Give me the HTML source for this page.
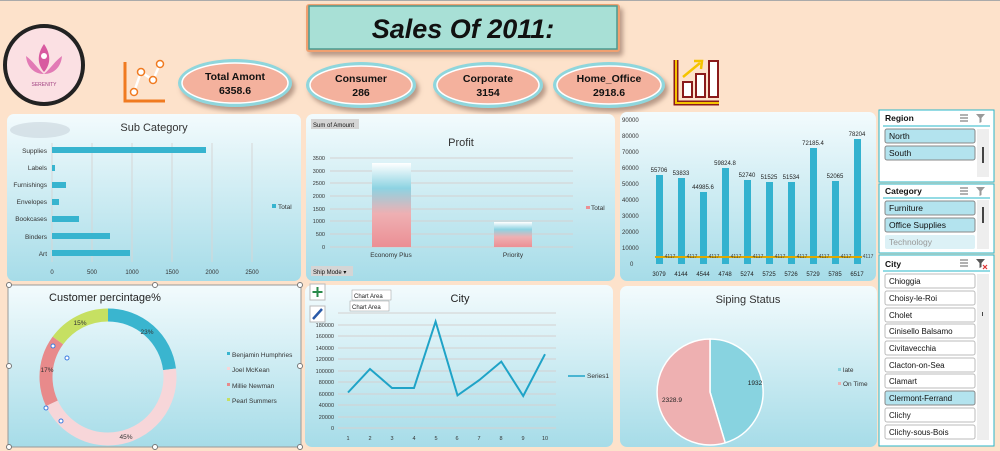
<!DOCTYPE html>
<html><head><meta charset="utf-8"><style>
html,body{margin:0;padding:0;background:#fde2cb;}
svg{display:block;font-family:"Liberation Sans",sans-serif;}
</style></head><body>
<svg width="1000" height="451" viewBox="0 0 1000 451" xmlns="http://www.w3.org/2000/svg">
<defs>
<linearGradient id="pg" x1="0" y1="0" x2="0" y2="1"><stop offset="0" stop-color="#f3fbfd"/><stop offset="1" stop-color="#a6dce8"/></linearGradient>
<linearGradient id="eb" x1="0" y1="0" x2="0" y2="1"><stop offset="0" stop-color="#ffffff"/><stop offset="0.3" stop-color="#8dd3e2"/><stop offset="0.6" stop-color="#eeb0b3"/><stop offset="1" stop-color="#ec8f94"/></linearGradient>
<filter id="sh" x="-20%" y="-20%" width="150%" height="160%"><feDropShadow dx="3" dy="4" stdDeviation="2.5" flood-color="#8a6a5a" flood-opacity="0.6"/></filter>
</defs>
<rect x="0" y="0" width="1000" height="451" fill="#fde2cb"/>
<line x1="0" y1="0.5" x2="1000" y2="0.5" stroke="#aaa"/>

<!-- title -->
<rect x="306" y="4" width="314" height="48" rx="3" fill="#f0a070" filter="url(#sh)"/>
<rect x="309" y="6" width="308" height="43" fill="#a8e0d6" stroke="#4a9a92" stroke-width="1.5"/>
<text x="463" y="38" font-size="27" font-weight="bold" font-style="italic" text-anchor="middle" fill="#111">Sales Of 2011:</text>

<!-- logo -->
<circle cx="44" cy="65" r="39" fill="#fbe0e3" stroke="#222" stroke-width="4"/>
<path d="M44 44 C37 54 37 64 44 72 C51 64 51 54 44 44Z" fill="#d85aa0"/>
<path d="M26 56 C27 68 35 74 44 74 C37 68 33 61 26 56Z M62 56 C61 68 53 74 44 74 C51 68 55 61 62 56Z" fill="#e27ab5"/>
<circle cx="44" cy="56" r="3" fill="#fff"/>
<text x="44" y="86" font-size="5" text-anchor="middle" fill="#a04080">SERENITY</text>

<!-- left icon -->
<g stroke="#f07a20" stroke-width="3" fill="none">
<path d="M125 62 V101 H165"/>
<path d="M134 92 L141 72 L153 80 L160 64" stroke="#fff" stroke-width="2.5"/>
</g>
<g fill="#fff" stroke="#f07a20" stroke-width="1.5"><circle cx="134" cy="92" r="3.5"/><circle cx="141" cy="72" r="3.5"/><circle cx="153" cy="80" r="3.5"/><circle cx="160" cy="64" r="3.5"/></g>

<!-- ellipses -->
<g font-size="10.5" font-weight="bold" text-anchor="middle" fill="#111">
<g filter="url(#sh)">
<ellipse cx="235" cy="83" rx="57" ry="24" fill="#8fd6dc"/>
<ellipse cx="361" cy="85" rx="55" ry="23" fill="#8fd6dc"/>
<ellipse cx="488" cy="85" rx="55" ry="23" fill="#8fd6dc"/>
<ellipse cx="609" cy="85" rx="56" ry="23" fill="#8fd6dc"/>
</g>
<ellipse cx="235" cy="83" rx="53" ry="20" fill="#f4b19d" stroke="#fff" stroke-width="1.5"/>
<ellipse cx="361" cy="85" rx="51" ry="19" fill="#f4b19d" stroke="#fff" stroke-width="1.5"/>
<ellipse cx="488" cy="85" rx="51" ry="19" fill="#f4b19d" stroke="#fff" stroke-width="1.5"/>
<ellipse cx="609" cy="85" rx="52" ry="19" fill="#f4b19d" stroke="#fff" stroke-width="1.5"/>
<text x="235" y="80">Total Amont</text><text x="235" y="94">6358.6</text>
<text x="361" y="82">Consumer</text><text x="361" y="96">286</text>
<text x="488" y="82">Corporate</text><text x="488" y="96">3154</text>
<text x="609" y="82">Home_Office</text><text x="609" y="96">2918.6</text>
</g>

<!-- right icon -->
<g>
<path d="M676 60 V103 H719" stroke="#8b1a1a" stroke-width="5" fill="none"/>
<path d="M676 60 V103 H719" stroke="#f5c400" stroke-width="2" fill="none"/>
<rect x="683" y="82" width="9" height="15" fill="#fff" stroke="#8b1a1a" stroke-width="2"/>
<rect x="696" y="74" width="9" height="23" fill="#fff" stroke="#8b1a1a" stroke-width="2"/>
<rect x="709" y="61" width="9" height="36" fill="#fff" stroke="#8b1a1a" stroke-width="2"/>
<path d="M683 77 L700 63" stroke="#f5c400" stroke-width="2.5"/>
<path d="M694 61 L702 61 L701 69" stroke="#f5c400" stroke-width="2.5" fill="none"/>
</g>

<!-- panels -->
<rect x="7" y="114" width="294" height="167" rx="7" fill="url(#pg)"/>
<rect x="306" y="114" width="309" height="167" rx="7" fill="url(#pg)"/>
<rect x="620" y="112" width="256" height="169" rx="7" fill="url(#pg)"/>
<rect x="8" y="285" width="293" height="162" fill="url(#pg)" stroke="#999" stroke-width="1"/>
<rect x="305" y="285" width="308" height="162" rx="7" fill="url(#pg)"/>
<rect x="620" y="286" width="257" height="161" rx="7" fill="url(#pg)"/>

<!-- Sub Category -->
<ellipse cx="40" cy="130" rx="30" ry="8" fill="#c8d4dc" opacity="0.6"/>
<text x="154" y="131" font-size="11" text-anchor="middle" fill="#333">Sub Category</text>
<g stroke="#d6d6d6" stroke-width="1">
<line x1="52" y1="143" x2="52" y2="262"/><line x1="92" y1="143" x2="92" y2="262"/><line x1="132" y1="143" x2="132" y2="262"/><line x1="172" y1="143" x2="172" y2="262"/><line x1="212" y1="143" x2="212" y2="262"/><line x1="252" y1="143" x2="252" y2="262"/>
</g>
<g fill="#37b4cf">
<rect x="52" y="147" width="154" height="6"/><rect x="52" y="165" width="3" height="6"/><rect x="52" y="182" width="14" height="6"/><rect x="52" y="199" width="7" height="6"/><rect x="52" y="216" width="27" height="6"/><rect x="52" y="233" width="58" height="6"/><rect x="52" y="250" width="78" height="6"/>
</g>
<g font-size="6.5" fill="#333" text-anchor="end">
<text x="47" y="153">Supplies</text><text x="47" y="170">Labels</text><text x="47" y="187">Furnishings</text><text x="47" y="204">Envelopes</text><text x="47" y="221">Bookcases</text><text x="47" y="239">Binders</text><text x="47" y="256">Art</text>
</g>
<g font-size="6" fill="#333" text-anchor="middle">
<text x="52" y="274">0</text><text x="92" y="274">500</text><text x="132" y="274">1000</text><text x="172" y="274">1500</text><text x="212" y="274">2000</text><text x="252" y="274">2500</text>
</g>
<rect x="272" y="204" width="4" height="4" fill="#37b4cf"/><text x="278" y="209" font-size="6.5" fill="#333">Total</text>

<!-- Profit -->
<rect x="311" y="119" width="48" height="10" fill="#d5d5d5"/><text x="313" y="127" font-size="6" fill="#111">Sum of Amount</text>
<text x="461" y="146" font-size="11" text-anchor="middle" fill="#333">Profit</text>
<g stroke="#d4d0d0"><line x1="330" y1="158" x2="573" y2="158"/><line x1="330" y1="171" x2="573" y2="171"/><line x1="330" y1="183" x2="573" y2="183"/><line x1="330" y1="196" x2="573" y2="196"/><line x1="330" y1="209" x2="573" y2="209"/><line x1="330" y1="221" x2="573" y2="221"/><line x1="330" y1="234" x2="573" y2="234"/><line x1="330" y1="247" x2="573" y2="247"/></g>
<g font-size="5.5" fill="#333" text-anchor="end">
<text x="325" y="160">3500</text><text x="325" y="173">3000</text><text x="325" y="185">2500</text><text x="325" y="198">2000</text><text x="325" y="211">1500</text><text x="325" y="223">1000</text><text x="325" y="236">500</text><text x="325" y="249">0</text>
</g>
<rect x="372" y="163" width="39" height="84" fill="url(#eb)"/>
<rect x="494" y="222" width="38" height="25" fill="url(#eb)"/>
<text x="391" y="257" font-size="6.5" fill="#333" text-anchor="middle">Economy Plus</text>
<text x="513" y="257" font-size="6.5" fill="#333" text-anchor="middle">Priority</text>
<rect x="586" y="206" width="4" height="3" fill="#ec8f94"/><text x="591" y="210" font-size="6.5" fill="#333">Total</text>
<rect x="311" y="266" width="42" height="10" fill="#d5d5d5"/><text x="313" y="274" font-size="6" fill="#111">Ship Mode ▾</text>

<!-- right bar chart -->
<g font-size="6" fill="#333">
<text x="622" y="122">90000</text><text x="622" y="138">80000</text><text x="622" y="154">70000</text><text x="622" y="170">60000</text><text x="622" y="186">50000</text><text x="622" y="202">40000</text><text x="622" y="218">30000</text><text x="622" y="234">20000</text><text x="622" y="250">10000</text><text x="630" y="266">0</text>
</g>
<g fill="#33b2cf">
<rect x="656" y="175" width="7" height="89"/><rect x="678" y="178" width="7" height="86"/><rect x="700" y="192" width="7" height="72"/><rect x="722" y="168" width="7" height="96"/><rect x="744" y="180" width="7" height="84"/><rect x="766" y="182" width="7" height="82"/><rect x="788" y="182" width="7" height="82"/><rect x="810" y="148" width="7" height="116"/><rect x="832" y="181" width="7" height="83"/><rect x="854" y="139" width="7" height="125"/>
</g>
<line x1="655" y1="257" x2="862" y2="257" stroke="#e0a800" stroke-width="2"/>
<g font-size="6" fill="#222" text-anchor="middle">
<text x="659" y="172">55706</text><text x="681" y="175">53833</text><text x="703" y="189">44985.6</text><text x="725" y="165">59824.8</text><text x="747" y="177">52740</text><text x="769" y="179">51525</text><text x="791" y="179">51534</text><text x="813" y="145">72185.4</text><text x="835" y="178">52065</text><text x="857" y="136">78204</text>
<text x="659" y="276">3079</text><text x="681" y="276">4144</text><text x="703" y="276">4544</text><text x="725" y="276">4748</text><text x="747" y="276">5274</text><text x="769" y="276">5725</text><text x="791" y="276">5726</text><text x="813" y="276">5729</text><text x="835" y="276">5785</text><text x="857" y="276">6517</text>
</g>
<g font-size="5" fill="#444" text-anchor="middle">
<text x="670" y="258">4117</text><text x="692" y="258">4117</text><text x="714" y="258">4117</text><text x="736" y="258">4117</text><text x="758" y="258">4117</text><text x="780" y="258">4117</text><text x="802" y="258">4117</text><text x="824" y="258">4117</text><text x="846" y="258">4117</text><text x="868" y="258">4117</text>
</g>

<!-- slicers -->
<g font-size="8.5" fill="#111">
<rect x="879" y="110" width="115" height="72" fill="#fff" stroke="#2ab7ca"/>
<text x="885" y="121" font-weight="bold">Region</text>
<line x1="883" y1="126" x2="990" y2="126" stroke="#2ab7ca"/>
<rect x="977" y="129" width="12" height="48" fill="#eee"/><rect x="982" y="147" width="2" height="16" fill="#444"/>
<rect x="885" y="129" width="90" height="14" rx="2" fill="#b3e3ee" stroke="#888"/><text x="889" y="139">North</text>
<rect x="885" y="146" width="90" height="14" rx="2" fill="#b3e3ee" stroke="#888"/><text x="889" y="156">South</text>
<rect x="879" y="184" width="115" height="69" fill="#fff" stroke="#2ab7ca"/>
<text x="885" y="194" font-weight="bold">Category</text>
<line x1="883" y1="198" x2="990" y2="198" stroke="#2ab7ca"/>
<rect x="977" y="200" width="12" height="49" fill="#eee"/><rect x="982" y="207" width="2" height="16" fill="#444"/>
<rect x="885" y="201" width="90" height="14" rx="2" fill="#b3e3ee" stroke="#888"/><text x="889" y="211">Furniture</text>
<rect x="885" y="218" width="90" height="14" rx="2" fill="#b3e3ee" stroke="#888"/><text x="889" y="228">Office Supplies</text>
<rect x="885" y="235" width="90" height="14" rx="2" fill="#dcf1f6"/><text x="889" y="245" fill="#999">Technology</text>
<rect x="879" y="255" width="115" height="191" fill="#fff" stroke="#2ab7ca"/>
<text x="885" y="267" font-weight="bold">City</text>
<line x1="883" y1="271" x2="990" y2="271" stroke="#2ab7ca"/>
<rect x="977" y="274" width="12" height="166" fill="#eee"/><rect x="982" y="312" width="1" height="4" fill="#444"/>
<g fill="#fff" stroke="#bbb">
<rect x="885" y="274" width="90" height="14" rx="2"/><rect x="885" y="291" width="90" height="14" rx="2"/><rect x="885" y="308" width="90" height="14" rx="2"/><rect x="885" y="324" width="90" height="14" rx="2"/><rect x="885" y="341" width="90" height="14" rx="2"/><rect x="885" y="358" width="90" height="14" rx="2"/><rect x="885" y="374" width="90" height="14" rx="2"/><rect x="885" y="391" width="90" height="14" rx="2" fill="#b3e3ee" stroke="#888"/><rect x="885" y="408" width="90" height="14" rx="2"/><rect x="885" y="425" width="90" height="14" rx="2"/>
</g>
<g font-size="8">
<text x="889" y="284">Chioggia</text><text x="889" y="301">Choisy-le-Roi</text><text x="889" y="318">Cholet</text><text x="889" y="334">Cinisello Balsamo</text><text x="889" y="351">Civitavecchia</text><text x="889" y="368">Clacton-on-Sea</text><text x="889" y="384">Clamart</text><text x="889" y="401">Clermont-Ferrand</text><text x="889" y="418">Clichy</text><text x="889" y="435">Clichy-sous-Bois</text>
</g>
<g stroke="#666" stroke-width="1"><path d="M960 115h8M960 118h8M960 121h8M960 188h8M960 191h8M960 194h8M960 260h8M960 263h8M960 266h8"/></g>
<g fill="#999"><path d="M976 114h9l-3.5 4v4l-2 1v-5z M976 187h9l-3.5 4v4l-2 1v-5z"/></g>
<path d="M976 259h9l-3.5 4v4l-2 1v-5z" fill="#555"/><path d="M983 265l4 4M987 265l-4 4" stroke="#d33" stroke-width="1.2"/>
</g>

<!-- Customer donut -->
<text x="105" y="301" font-size="11" text-anchor="middle" fill="#222">Customer percintage%</text>
<g transform="rotate(-90 108 377)" fill="none" stroke-width="13">
<circle cx="108" cy="377" r="62" stroke="#3ab5cf" stroke-dasharray="89.6 389.6" stroke-dashoffset="0"/>
<circle cx="108" cy="377" r="62" stroke="#f7d6d9" stroke-dasharray="175.3 389.6" stroke-dashoffset="-89.6"/>
<circle cx="108" cy="377" r="62" stroke="#e88a8b" stroke-dasharray="66.2 389.6" stroke-dashoffset="-264.9"/>
<circle cx="108" cy="377" r="62" stroke="#c6e062" stroke-dasharray="58.5 389.6" stroke-dashoffset="-331.1"/>
</g>
<g font-size="6.5" fill="#333" text-anchor="middle">
<text x="147" y="334">23%</text><text x="126" y="439">45%</text><text x="47" y="372">17%</text><text x="80" y="325">15%</text>
</g>
<g fill="#fff" stroke="#3a7be0" stroke-width="1"><circle cx="53" cy="346" r="2"/><circle cx="67" cy="358" r="2"/><circle cx="61" cy="421" r="2"/><circle cx="46" cy="430" r="0"/><circle cx="46" cy="408" r="2"/></g>
<g fill="#fff" stroke="#777"><circle cx="9" cy="285" r="2.5"/><circle cx="155" cy="285" r="2.5"/><circle cx="300" cy="285" r="2.5"/><circle cx="9" cy="366" r="2.5"/><circle cx="300" cy="366" r="2.5"/><circle cx="9" cy="447" r="2.5"/><circle cx="155" cy="447" r="2.5"/><circle cx="300" cy="447" r="2.5"/></g>
<g font-size="6.5" fill="#333">
<rect x="227" y="352" width="3" height="3" fill="#3ab5cf"/><text x="232" y="357">Benjamin Humphries</text>
<rect x="227" y="367" width="3" height="3" fill="#f7d6d9"/><text x="232" y="372">Joel McKean</text>
<rect x="227" y="383" width="3" height="3" fill="#e88a8b"/><text x="232" y="388">Millie Newman</text>
<rect x="227" y="398" width="3" height="3" fill="#c6e062"/><text x="232" y="403">Pearl Summers</text>
</g>

<!-- City line -->
<text x="460" y="302" font-size="11" text-anchor="middle" fill="#222">City</text>
<g stroke="#d4d0d0"><line x1="338" y1="313" x2="556" y2="313"/><line x1="338" y1="325" x2="556" y2="325"/><line x1="338" y1="336" x2="556" y2="336"/><line x1="338" y1="348" x2="556" y2="348"/><line x1="338" y1="359" x2="556" y2="359"/><line x1="338" y1="371" x2="556" y2="371"/><line x1="338" y1="382" x2="556" y2="382"/><line x1="338" y1="394" x2="556" y2="394"/><line x1="338" y1="405" x2="556" y2="405"/><line x1="338" y1="417" x2="556" y2="417"/><line x1="338" y1="428" x2="556" y2="428"/></g>
<g font-size="5.5" fill="#333" text-anchor="end">
<text x="334" y="327">180000</text><text x="334" y="338">160000</text><text x="334" y="350">140000</text><text x="334" y="361">120000</text><text x="334" y="373">100000</text><text x="334" y="384">80000</text><text x="334" y="396">60000</text><text x="334" y="407">40000</text><text x="334" y="419">20000</text><text x="334" y="430">0</text>
</g>
<polyline points="348,392.5 370,369 392,388 414,388 435.6,321.6 457.5,395.4 479.4,380 501.3,361.6 523.2,396 545,354.2" fill="none" stroke="#1fa3c7" stroke-width="2"/>
<g font-size="5.5" fill="#333" text-anchor="middle">
<text x="348" y="440">1</text><text x="370" y="440">2</text><text x="392" y="440">3</text><text x="414" y="440">4</text><text x="436" y="440">5</text><text x="457" y="440">6</text><text x="479" y="440">7</text><text x="501" y="440">8</text><text x="523" y="440">9</text><text x="545" y="440">10</text>
</g>
<line x1="568" y1="376" x2="585" y2="376" stroke="#1fa3c7" stroke-width="1.5"/><text x="587" y="378" font-size="6.5" fill="#333">Series1</text>
<rect x="310" y="284" width="15" height="16" fill="#fff" stroke="#bbb"/><path d="M317.5 287v10M312.5 292h10" stroke="#2a8a4a" stroke-width="2"/>
<rect x="310" y="306" width="15" height="16" fill="#fff" stroke="#bbb"/><path d="M313 319l9-10" stroke="#2a5aa8" stroke-width="2.5"/>
<rect x="352" y="290" width="39" height="10" fill="#fff" stroke="#999" stroke-width="0.5"/><text x="354" y="298" font-size="6" fill="#222">Chart Area</text>
<rect x="350" y="301" width="39" height="10" fill="#fff" stroke="#999" stroke-width="0.5"/><text x="352" y="309" font-size="6" fill="#222">Chart Area</text>

<!-- Pie -->
<text x="748" y="303" font-size="11" text-anchor="middle" fill="#333">Siping Status</text>
<path d="M710 392 L710 339 A53 53 0 0 1 725.2 442.8 Z" fill="#88d3e0" stroke="#fff" stroke-width="1.5"/>
<path d="M710 392 L725.2 442.8 A53 53 0 1 1 710 339 Z" fill="#eeb0b1" stroke="#fff" stroke-width="1.5"/>
<text x="755" y="385" font-size="6.5" fill="#222" text-anchor="middle">1932</text>
<text x="672" y="402" font-size="6.5" fill="#222" text-anchor="middle">2328.9</text>
<rect x="838" y="368" width="3" height="3" fill="#88d3e0"/><text x="843" y="372" font-size="6.5" fill="#333">late</text>
<rect x="838" y="382" width="3" height="3" fill="#eeb0b1"/><text x="843" y="386" font-size="6.5" fill="#333">On Time</text>
</svg>
</body></html>
